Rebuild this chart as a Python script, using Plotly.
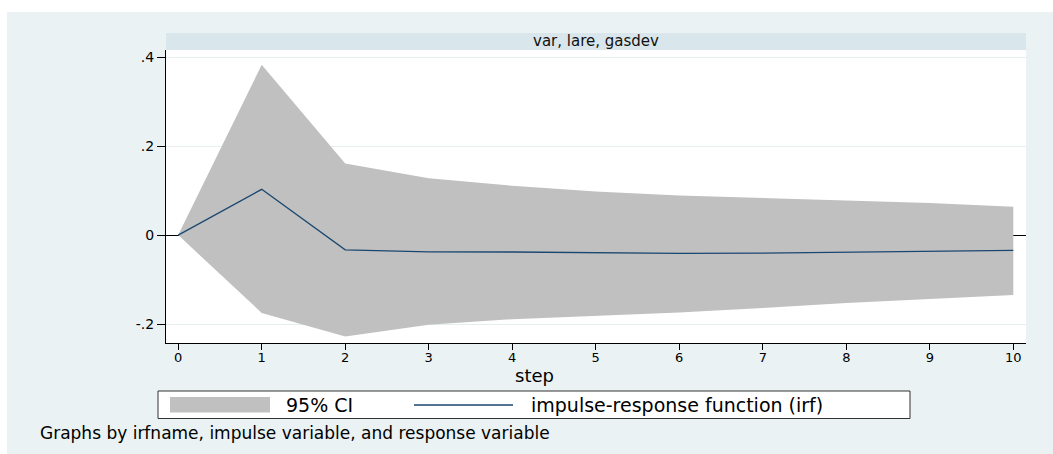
import plotly.graph_objects as go

# ---- data ----
steps = [0, 1, 2, 3, 4, 5, 6, 7, 8, 9, 10]
irf = [0.0, 0.103, -0.033, -0.0375, -0.038, -0.040, -0.041, -0.0405, -0.039, -0.037, -0.0345]
ci_upper = [0.0, 0.383, 0.161, 0.128, 0.111, 0.098, 0.089, 0.083, 0.077, 0.072, 0.064]
ci_lower = [0.0, -0.175, -0.228, -0.2015, -0.189, -0.181, -0.174, -0.164, -0.153, -0.144, -0.135]
y_tickvals = [-0.2, 0, 0.2, 0.4]
y_ticktext = ["-.2", "0", ".2", ".4"]
x_tickvals = steps
panel_title = "var, lare, gasdev"
x_title = "step"
legend_ci = "95% CI"
legend_irf = "impulse-response function (irf)"
note_text = "Graphs by irfname, impulse variable, and response variable"

# ---- styling ----
W, H = 1053, 454
PL, PR, PT, PB = 166, 1026, 50, 343  # plot area in pixels
FONT = "DejaVu Sans"
OUTER_BG = "#EAF2F3"
STRIP_BG = "#D9E6EC"
CI_COLOR = "#C0C0C0"
LINE_COLOR = "#1A476F"


def X(px):
    return (px - PL) / (PR - PL)


def Y(py):
    return (PB - py) / (PB - PT)


fig = go.Figure()
fig.add_trace(go.Scatter(x=steps, y=ci_lower, mode="lines", line=dict(width=0, color=CI_COLOR),
                         showlegend=False, hoverinfo="skip", name="lower"))
fig.add_trace(go.Scatter(x=steps, y=ci_upper, mode="lines", line=dict(width=0, color=CI_COLOR),
                         fill="tonexty", fillcolor=CI_COLOR, showlegend=False, name=legend_ci))
fig.add_trace(go.Scatter(x=steps, y=irf, mode="lines", line=dict(width=1.3, color=LINE_COLOR),
                         showlegend=False, name=legend_irf))

shapes = [
    # outer graph region
    dict(type="rect", xref="paper", yref="paper", x0=X(7), x1=X(W + 5), y0=Y(12), y1=Y(H + 5),
         fillcolor=OUTER_BG, line=dict(width=0), layer="below"),
    # title strip
    dict(type="rect", xref="paper", yref="paper", x0=X(PL), x1=X(PR), y0=Y(33), y1=Y(PT),
         fillcolor=STRIP_BG, line=dict(width=0), layer="below"),
    # plot area
    dict(type="rect", xref="paper", yref="paper", x0=0, x1=1, y0=0, y1=1,
         fillcolor="white", line=dict(width=0), layer="below"),
    # legend box
    dict(type="rect", xref="paper", yref="paper", x0=X(158), x1=X(910), y0=Y(391), y1=Y(418.5),
         fillcolor="white", line=dict(width=1, color="#333333")),
    dict(type="rect", xref="paper", yref="paper", x0=X(170), x1=X(270), y0=Y(397), y1=Y(412.5),
         fillcolor=CI_COLOR, line=dict(width=0)),
    dict(type="line", xref="paper", yref="paper", x0=X(414), x1=X(513), y0=Y(405), y1=Y(405),
         line=dict(width=1.3, color=LINE_COLOR)),
]

annotations = [
    dict(text=panel_title, xref="paper", yref="paper", x=X(596), y=Y(41.5), showarrow=False,
         xanchor="center", yanchor="middle", font=dict(family=FONT, size=15, color="#111111")),
    dict(text=x_title, xref="paper", yref="paper", x=X(534), y=Y(375), showarrow=False,
         xanchor="center", yanchor="middle", font=dict(family=FONT, size=18, color="black")),
    dict(text=legend_ci, xref="paper", yref="paper", x=X(284), y=Y(405), showarrow=False,
         xanchor="left", yanchor="middle", font=dict(family=FONT, size=19, color="black")),
    dict(text=legend_irf, xref="paper", yref="paper", x=X(529), y=Y(405), showarrow=False,
         xanchor="left", yanchor="middle", font=dict(family=FONT, size=19, color="black")),
    dict(text=note_text, xref="paper", yref="paper", x=X(38), y=Y(433), showarrow=False,
         xanchor="left", yanchor="middle", font=dict(family=FONT, size=17, color="black")),
]

fig.update_layout(
    width=W, height=H,
    margin=dict(l=PL, r=W - PR, t=PT, b=H - PB, pad=0),
    paper_bgcolor="white", plot_bgcolor="white",
    font=dict(family=FONT, size=14, color="black"),
    shapes=shapes, annotations=annotations,
    showlegend=False,
)
fig.update_xaxes(
    range=[-0.146, 10.152], tickvals=x_tickvals, ticks="outside", ticklen=6, tickcolor="black",
    tickfont=dict(family=FONT, size=13, color="black"), ticklabelstandoff=-4,
    showgrid=False, zeroline=False,
    showline=True, linecolor="black", linewidth=1,
)
fig.update_yaxes(
    range=[-0.2427, 0.4164], tickvals=y_tickvals, ticktext=y_ticktext, ticks="outside", ticklen=8,
    tickcolor="black", tickfont=dict(family=FONT, size=14, color="black"),
    showgrid=True, gridcolor="#E6EFF0", gridwidth=1,
    zeroline=True, zerolinecolor="black", zerolinewidth=1,
    showline=True, linecolor="black", linewidth=1,
)

fig.write_html("out.html")
